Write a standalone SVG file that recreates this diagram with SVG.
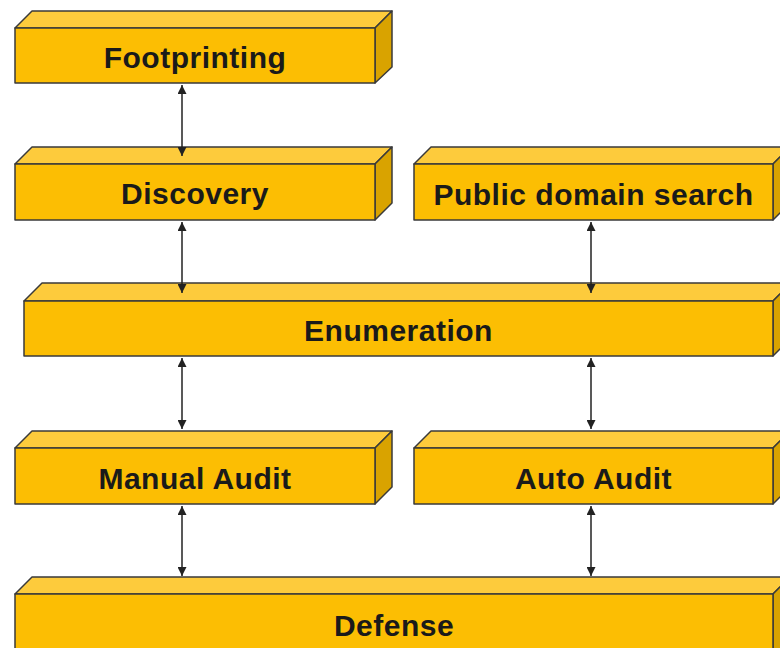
<svg xmlns="http://www.w3.org/2000/svg" width="780" height="648" viewBox="0 0 780 648">
<defs>
<style>
.front{fill:#FCBE03;stroke:#3a3a3a;stroke-width:1.5;stroke-linejoin:round}
.top{fill:#FDCB3C;stroke:#3a3a3a;stroke-width:1.5;stroke-linejoin:round}
.side{fill:#D9A300;stroke:#3a3a3a;stroke-width:1.5;stroke-linejoin:round}
.lbl{font-family:"Liberation Sans",Arial,sans-serif;font-weight:bold;font-size:30px;fill:#1a1a1a;text-anchor:middle;letter-spacing:0.5px}
.conn{stroke:#222;stroke-width:1.5;fill:none;marker-start:url(#ah);marker-end:url(#ah)}
</style>
<marker id="ah" viewBox="0 0 10 10" refX="10" refY="5" markerWidth="9" markerHeight="9" markerUnits="userSpaceOnUse" orient="auto-start-reverse">
<path d="M0,0 L10,5 L0,10 z" fill="#222"/>
</marker>
</defs>
<rect width="780" height="648" fill="#fff"/>
<g id="footprinting">
<polygon class="top" points="15,28 32,11 392,11 375,28"/>
<polygon class="side" points="375,28 392,11 392,67 375,83"/>
<rect class="front" x="15" y="28" width="360" height="55"/>
<text class="lbl" x="195" y="68">Footprinting</text>
</g>
<g id="discovery">
<polygon class="top" points="15,164 32,147 392,147 375,164"/>
<polygon class="side" points="375,164 392,147 392,203 375,220"/>
<rect class="front" x="15" y="164" width="360" height="56"/>
<text class="lbl" x="195" y="204">Discovery</text>
</g>
<g id="public-domain-search">
<polygon class="top" points="414,164 431,147 790,147 773,164"/>
<polygon class="side" points="773,164 790,147 790,203 773,220"/>
<rect class="front" x="414" y="164" width="359" height="56"/>
<text class="lbl" x="593.5" y="205">Public domain search</text>
</g>
<g id="enumeration">
<polygon class="top" points="24,301 42,283 791,283 773,301"/>
<polygon class="side" points="773,301 791,283 791,338 773,356"/>
<rect class="front" x="24" y="301" width="749" height="55"/>
<text class="lbl" x="398.5" y="341">Enumeration</text>
</g>
<g id="manual-audit">
<polygon class="top" points="15,448 32,431 392,431 375,448"/>
<polygon class="side" points="375,448 392,431 392,487 375,504"/>
<rect class="front" x="15" y="448" width="360" height="56"/>
<text class="lbl" x="195" y="489">Manual Audit</text>
</g>
<g id="auto-audit">
<polygon class="top" points="414,448 431,431 790,431 773,448"/>
<polygon class="side" points="773,448 790,431 790,487 773,504"/>
<rect class="front" x="414" y="448" width="359" height="56"/>
<text class="lbl" x="593.5" y="489">Auto Audit</text>
</g>
<g id="defense">
<polygon class="top" points="15,594 32,577 790,577 773,594"/>
<polygon class="side" points="773,594 790,577 790,660 773,660"/>
<rect class="front" x="15" y="594" width="758" height="70"/>
<text class="lbl" x="394" y="636">Defense</text>
</g>
<g id="connectors">
<line class="conn" x1="182" y1="85" x2="182" y2="156"/>
<line class="conn" x1="182" y1="222" x2="182" y2="293"/>
<line class="conn" x1="591" y1="222" x2="591" y2="293"/>
<line class="conn" x1="182" y1="358" x2="182" y2="429"/>
<line class="conn" x1="591" y1="358" x2="591" y2="429"/>
<line class="conn" x1="182" y1="506" x2="182" y2="576"/>
<line class="conn" x1="591" y1="506" x2="591" y2="576"/>
</g>
</svg>
